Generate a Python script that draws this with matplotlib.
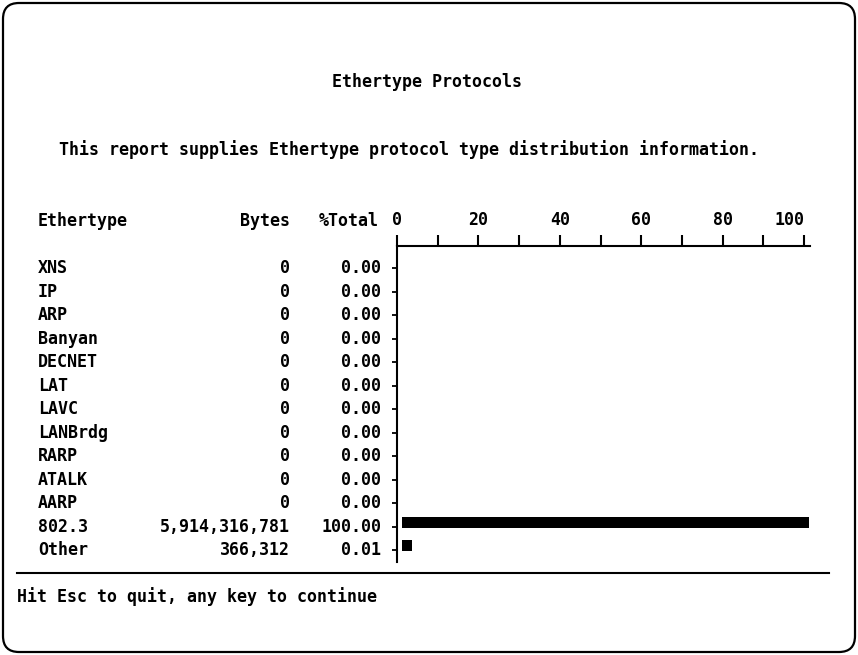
from matplotlib import pyplot as plt
from matplotlib.patches import FancyBboxPatch
from matplotlib.lines import Line2D
import matplotlib.ticker as tck
import numpy as np

plt.rcParams['font.family'] = ['DejaVu Sans Mono']
plt.rcParams['font.size'] = 12
plt.rcParams['font.weight'] = 'bold'

# data
protocols = ['XNS', 'IP', 'ARP', 'Banyan', 'DECNET', 'LAT', 'LAVC',
             'LANBrdg', 'RARP', 'ATALK', 'AARP', '802.3', 'Other']
byte_counts = [0, 0, 0, 0, 0, 0, 0, 0, 0, 0, 0, 5914316781, 366312]
pct_total = [0.00, 0.00, 0.00, 0.00, 0.00, 0.00, 0.00, 0.00, 0.00, 0.00, 0.00, 100.00, 0.01]

W, H = 858, 655
fig = plt.figure(figsize=(W / 100, H / 100), dpi=100)

def fx(px):
    return px / W

def fy(py):
    return 1 - py / H

# screen frame
frame = FancyBboxPatch((0.03, 0.03), 8.52, 6.49, boxstyle='round,pad=0,rounding_size=0.16',
                       transform=fig.dpi_scale_trans, fill=False, lw=1.6, ec='black')
fig.patches.append(frame)

fig.text(fx(427), fy(82), 'Ethertype Protocols', ha='center', va='center')
fig.text(fx(59), fy(150), 'This report supplies Ethertype protocol type distribution information.',
         ha='left', va='center')

# header row
fig.text(fx(38), fy(221), 'Ethertype', ha='left', va='center')
fig.text(fx(290), fy(221), 'Bytes', ha='right', va='center')
fig.text(fx(379), fy(221), '%Total', ha='right', va='center')

# bar chart area
ax_left, ax_right, ax_top, ax_bot = 397, 810, 245.5, 562
ax = fig.add_axes([fx(ax_left), fy(ax_bot), fx(ax_right - ax_left), (ax_bot - ax_top) / H])

row0, row_step = 268.3, 23.5
ax.set_ylim(len(protocols) - 1 + (ax_bot - 550) / row_step, -(row0 - ax_top) / row_step)
ax.set_xlim(0, 100 * (ax_right - ax_left) / 407)

y = np.arange(len(protocols))
bar_start = 1.2      # bars start a few pixels right of the axis
min_width = 2.5      # screen draws a minimal block for tiny values
widths = [max(p, min_width) if p > 0 else 0 for p in pct_total]
ax.barh(y + 0.05, widths, height=-0.47, left=bar_start, align='edge', color='black')

for spine in ['right', 'bottom']:
    ax.spines[spine].set_visible(False)
for spine in ['top', 'left']:
    ax.spines[spine].set_linewidth(1.5)

ax.xaxis.set_ticks_position('top')
ax.xaxis.set_major_locator(tck.FixedLocator([0, 20, 40, 60, 80, 100]))
ax.xaxis.set_minor_locator(tck.FixedLocator([10, 30, 50, 70, 90]))
ax.xaxis.set_major_formatter(tck.FormatStrFormatter('%d'))
ax.tick_params(axis='x', which='both', direction='out', length=8, width=1.5, pad=4, labelsize=12)

ax.set_yticks(y)
ax.set_yticklabels([f'{p:.2f}' for p in pct_total], va='center')
ax.tick_params(axis='y', direction='out', length=3.5, width=1.3, pad=8, labelsize=12)

for i, (name, b) in enumerate(zip(protocols, byte_counts)):
    ax.annotate(name, xy=(fx(38), i), xycoords=('figure fraction', 'data'), ha='left', va='center')
    ax.annotate(f'{b:,}', xy=(fx(290), i), xycoords=('figure fraction', 'data'), ha='right', va='center')

# status line
fig.add_artist(Line2D([fx(17), fx(829)], [fy(573), fy(573)], color='black', lw=1.5))
fig.text(fx(17), fy(597), 'Hit Esc to quit, any key to continue', ha='left', va='center')

fig.canvas.draw()
# last tick label sits left of its tick on the screen
ax.get_xticklabels()[-1].set_horizontalalignment('right')

fig.savefig('out.png', dpi=100)
